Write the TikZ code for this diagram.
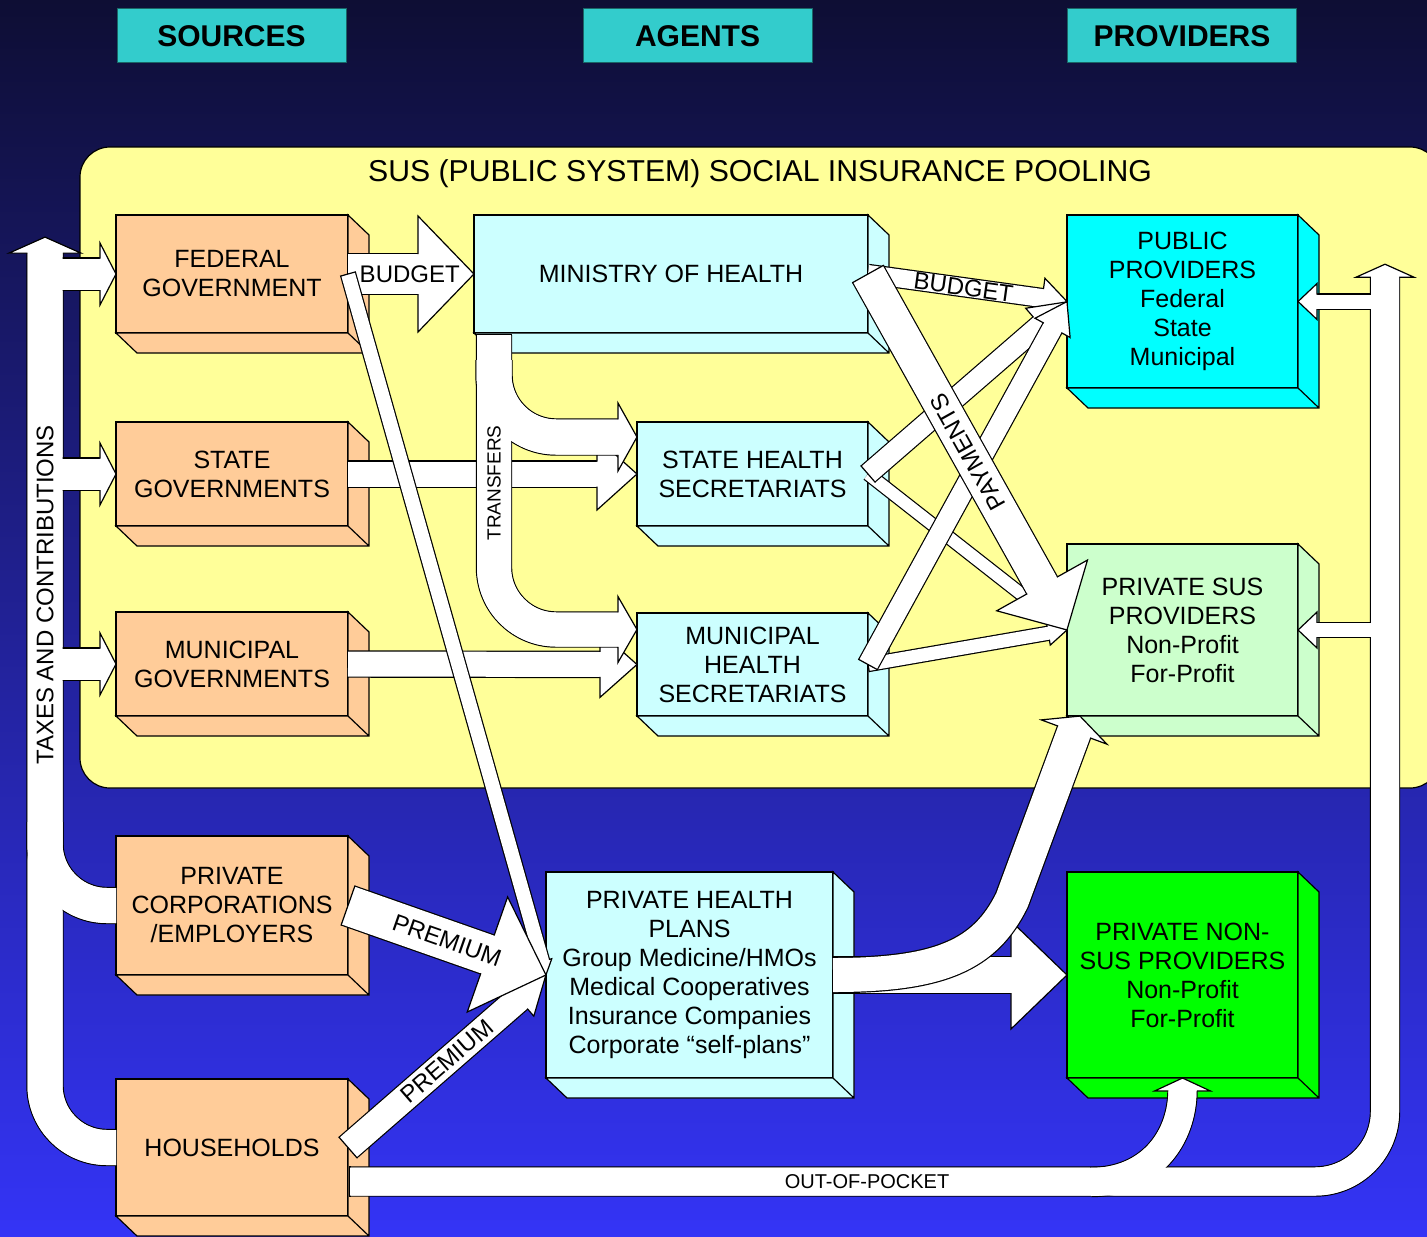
\documentclass[tikz,border=0pt]{standalone}
\usepackage{fontspec}
\setmainfont{Liberation Sans}
\usetikzlibrary{calc}
\usetikzlibrary{decorations.markings}

\definecolor{govfill}{HTML}{FFCC99}
\definecolor{agentfill}{HTML}{CCFFFF}
\definecolor{pubfill}{HTML}{00FFFF}
\definecolor{susfill}{HTML}{CCFFCC}
\definecolor{nspfill}{HTML}{00FF00}
\definecolor{panelfill}{HTML}{FFFF99}
\definecolor{headfill}{HTML}{33CCCC}
\definecolor{headline}{HTML}{1A6666}
\definecolor{bgtop}{HTML}{0E0E34}
\definecolor{bgmid}{HTML}{2626B4}
\definecolor{bgbot}{HTML}{3434F6}

\tikzset{
    box/.style={draw=black, line width=0.6pt, fill=#1, align=center, outer sep=0pt, inner sep=2pt,
        font=\fontsize{12.5}{14.5}\selectfont},
    headbox/.style={draw=headline, line width=0.5pt, fill=headfill, minimum width=114.5pt,
        minimum height=27pt, font=\bfseries\fontsize{15}{17}\selectfont},
    lbl/.style={inner sep=0pt, font=\fontsize{12}{14}\selectfont},
    fat/.style n args={3}{draw=black, line width=0.6pt, double=white, double distance=#1,
        shorten >=#3-0.6pt,
        postaction={decorate, decoration={markings, mark=at position 0.9999 with {
            \filldraw[fill=white, draw=black, line width=0.6pt, sharp corners, shorten >=0pt, shorten <=0pt]
                (-#3,#1/2) -- (-#3,#2) -- (0pt,0pt) -- (-#3,-#2) -- (-#3,-#1/2);}}}},
    pipe/.style={draw=black, line width=0.6pt, double=white, double distance=#1},
    core/.style 2 args={draw=white, line width=#1, shorten >=#2-0.6pt},
    startcap/.style={postaction={decorate, decoration={markings, mark=at position 0 with {
        \draw[black, line width=0.6pt, sharp corners, shorten >=0pt, shorten <=0pt]
            (0pt,-#1/2-0.6pt) -- (0pt,#1/2+0.6pt);}}}},
}

\begin{document}
\begin{tikzpicture}[x=0.5pt, y=-0.5pt]
    \useasboundingbox (0,0) rectangle (1427,1236);
    \shade[top color=bgtop, middle color=bgmid, bottom color=bgbot] (0,0) rectangle (1427,1236);
    \filldraw[fill=panelfill, draw=black, line width=0.6pt, rounded corners=15pt] (80,147) rectangle (1440,788);

    \node[headbox] (hsrc) at (231.5,36) {SOURCES};
    \node[headbox] (hagt) at (697.5,36) {AGENTS};
    \node[headbox] (hprv) at (1182,36) {PROVIDERS};
    \node[font=\fontsize{15.1}{17}\selectfont] (pool) at (760,174) {SUS (PUBLIC SYSTEM) SOCIAL INSURANCE POOLING};

    % sources
    \node[box=govfill, minimum width=116pt, minimum height=59pt] (fed) at (232,274) {FEDERAL\\GOVERNMENT};
    \node[box=govfill, minimum width=116pt, minimum height=52pt] (stg) at (232,474) {STATE\\GOVERNMENTS};
    \node[box=govfill, minimum width=116pt, minimum height=52pt] (mug) at (232,664) {MUNICIPAL\\GOVERNMENTS};
    \node[box=govfill, minimum width=116pt, minimum height=69.5pt] (corp) at (232,905.5) {PRIVATE\\CORPORATIONS\\/EMPLOYERS};
    \node[box=govfill, minimum width=116pt, minimum height=68.5pt] (hh) at (232,1147.5) {HOUSEHOLDS};
    % agents
    \node[box=agentfill, minimum width=197pt, minimum height=59pt] (moh) at (671,274) {MINISTRY OF HEALTH};
    \node[box=agentfill, minimum width=115.5pt, minimum height=52pt] (shs) at (752.5,474) {STATE HEALTH\\SECRETARIATS};
    \node[box=agentfill, minimum width=115.5pt, minimum height=51.5pt] (mhs) at (752.5,664.5) {MUNICIPAL\\HEALTH\\SECRETARIATS};
    \node[box=agentfill, minimum width=143.5pt, minimum height=103pt] (php) at (689.5,975)
        {PRIVATE HEALTH\\PLANS\\Group Medicine/HMOs\\Medical Cooperatives\\Insurance Companies\\Corporate “self-plans”};
    % providers
    \node[box=pubfill, minimum width=115.5pt, minimum height=86.5pt] (pub) at (1182.5,301.5) {PUBLIC\\PROVIDERS\\Federal\\State\\Municipal};
    \node[box=susfill, minimum width=115.5pt, minimum height=86pt] (sus) at (1182.5,630) {PRIVATE SUS\\PROVIDERS\\Non-Profit\\For-Profit};
    \node[box=nspfill, minimum width=115.5pt, minimum height=103pt] (nsp) at (1182.5,975) {PRIVATE NON-\\SUS PROVIDERS\\Non-Profit\\For-Profit};

    \foreach \bx/\cl in {fed/govfill, stg/govfill, mug/govfill, corp/govfill, hh/govfill,
            moh/agentfill, shs/agentfill, mhs/agentfill, php/agentfill,
            pub/pubfill, sus/susfill, nsp/nspfill}
        \filldraw[fill=\cl, line width=0.6pt] (\bx.north east) -- ++(21,20) -- ($(\bx.south east)+(21,20)$)
            -- ($(\bx.south west)+(21,20)$) -- (\bx.south west) -- (\bx.south east) -- cycle
            (\bx.south east) -- ++(21,20);

    % taxes and contributions
    \coordinate (taxtop) at (45,237);
    \draw[fat={17.5pt}{18pt}{8pt}, rounded corners=31pt] (hh.west) -| (taxtop);
    \draw[pipe=17.5pt, rounded corners=31pt] (corp.west) -| ($(taxtop)+(0,585)$);
    \foreach \g in {fed, stg, mug}
        \draw[fat={15.5pt}{15.5pt}{8pt}] (\g.west -| taxtop) -- (\g.west);
    \draw[core={17.5pt}{8pt}, rounded corners=31pt] (hh.west) -| (taxtop);
    \draw[core={17.5pt}{0.6pt}, rounded corners=31pt] (corp.west) -| ($(taxtop)+(0,585)$);
    \foreach \g in {fed, stg, mug}
        \draw[core={15.5pt}{8pt}] (\g.west -| taxtop) -- (\g.west);
    \node[lbl, rotate=90] (taxlbl) at ($(taxtop)+(0,358)$) {TAXES AND CONTRIBUTIONS};

    \draw[fat={20pt}{29pt}{28pt}] (fed.east) -- (moh.west) node[lbl, pos=0.49] (bud1) {BUDGET};
    \draw[fat={12.5pt}{18pt}{20pt}] (stg.east) -- (shs.west);
    \draw[fat={12.5pt}{16.5pt}{18.5pt}] (mug.east) -- (mhs.west);

    % transfers
    \coordinate (trtop) at ($(moh.south west)+(20,2)$);
    \draw[fat={17pt}{16.5pt}{9.5pt}, rounded corners=31pt, startcap=17pt] (trtop) |- ($(mhs.west)+(0,-35)$);
    \draw[fat={17.5pt}{17pt}{9.5pt}, rounded corners=31pt] ($(trtop)+(0,25)$) |- ($(shs.west)+(0,-37)$);
    \draw[core={17pt}{9.5pt}, rounded corners=31pt] (trtop) |- ($(mhs.west)+(0,-35)$);
    \draw[core={17.5pt}{9.5pt}, rounded corners=31pt] ($(trtop)+(0,25)$) |- ($(shs.west)+(0,-37)$);
    \node[lbl, font=\fontsize{9.5}{11}\selectfont, rotate=90] (trlbl) at ($(trtop)+(0,148)$) {TRANSFERS};

    \draw[fat={7pt}{5pt}{7pt}, startcap=7pt] (fed.east) -- (php.west);

    % premiums
    \draw[fat={13pt}{11.5pt}{18pt}, startcap=13pt] (hh.east) -- (php.west) node[lbl, sloped, pos=0.5] (prem2) {PREMIUM};
    \draw[fat={20pt}{30.5pt}{31pt}, startcap=20pt] (corp.east) -- (php.west) node[lbl, sloped, pos=0.5] (prem1) {PREMIUM};

    % agents to providers
    \draw[fat={9pt}{10pt}{12.5pt}] (moh.east) -- (pub.west) node[lbl, sloped, pos=0.48] (bud2) {BUDGET};
    \draw[fat={6pt}{4pt}{6pt}] (shs.east) -- (sus.west);
    \draw[fat={6.5pt}{6pt}{9.5pt}, startcap=6.5pt] (mhs.east) -- (sus.west);
    \draw[fat={10pt}{11pt}{17.5pt}, startcap=10pt] (shs.east) -- (pub.west);
    \draw[fat={10pt}{10pt}{15pt}, startcap=10pt] (mhs.east) -- (pub.west);
    \draw[fat={17pt}{26pt}{25.5pt}, startcap=17pt] (moh.east) -- (sus.west)
        node[lbl, sloped, rotate=180, pos=0.5] (pay) {PAYMENTS};

    \draw[fat={18pt}{27pt}{28pt}] (php.east) -- (nsp.west);
    \draw[fat={17pt}{17.5pt}{8.5pt}] (php.east) .. controls +(107,0) and +(-27,55) .. (1012,900) -- (sus.220);

    % out-of-pocket
    \coordinate (oop) at ($(hh.east)+(2,34)$);
    \coordinate (ooptop) at (1385,264);
    \draw[fat={14pt}{14.5pt}{6.5pt}, rounded corners=35pt, startcap=14pt] (oop) -| (ooptop);
    \foreach \p in {pub, sus}
        \draw[fat={7pt}{9pt}{9.5pt}] (\p.east -| ooptop) -- (\p.east);
    \draw[fat={14pt}{14pt}{6.5pt}] ($(nsp.south)+(-92,104)$) .. controls +(60,0) and +(0,60) .. (nsp.south);
    \draw[core={14pt}{6.5pt}, rounded corners=35pt] (oop) -| (ooptop);
    \foreach \p in {pub, sus}
        \draw[core={7pt}{9.5pt}] (\p.east -| ooptop) -- (\p.east);
    \draw[core={14pt}{6.5pt}] ($(nsp.south)+(-92,104)$) .. controls +(60,0) and +(0,60) .. (nsp.south);
    \node[lbl, font=\fontsize{10}{12}\selectfont] (ooplbl) at ($(oop)+(517,0)$) {OUT-OF-POCKET};
\end{tikzpicture}
\end{document}
